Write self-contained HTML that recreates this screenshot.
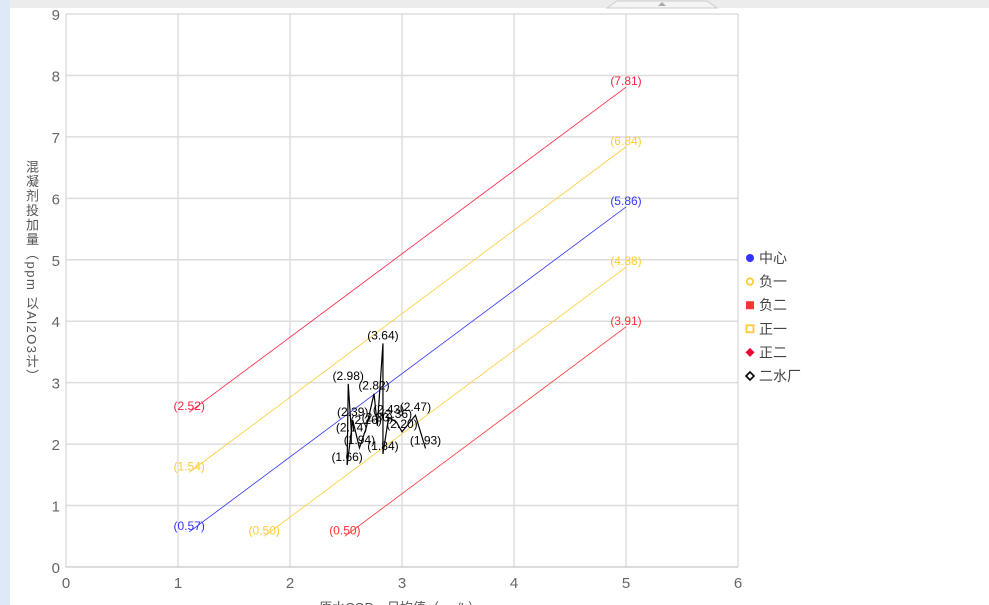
<!DOCTYPE html>
<html><head><meta charset="utf-8"><style>
body{margin:0;width:989px;height:605px;overflow:hidden;background:#fff;font-family:"Liberation Sans","Noto Sans CJK SC",sans-serif;position:relative}
#ytitle{position:absolute;left:22px;top:160px;writing-mode:vertical-rl;font-size:13px;color:#555;letter-spacing:1.5px;font-family:"Liberation Sans","Noto Sans CJK SC",sans-serif}
</style></head><body>
<div style="position:absolute;left:0;top:0;width:10px;height:605px;background:#dde9f6"></div>
<div style="position:absolute;left:10px;top:0;width:979px;height:8px;background:#ececec"></div>
<div id="ytitle">混凝剂投加量（ppm 以Al2O3计）</div>
<svg id="chart" width="989" height="605" style="position:absolute;left:0;top:0" font-family="Liberation Sans, Noto Sans CJK SC, sans-serif">
<polygon points="607,8 617,1 707,1 717,8" fill="#f4f4f4" stroke="#ccc" stroke-width="1"/>
<polygon points="658,6 662,2 666,6" fill="#aaa"/>
<g id="grid"></g><g id="series"></g><g id="legend"></g>
<text x="400" y="612" font-size="13" fill="#555" text-anchor="middle">原水COD…日均值（mg/L）</text>
</svg>
<script>
const xTicks=[0,1,2,3,4,5,6];
const yTicks=[0,1,2,3,4,5,6,7,8,9];
const lineNames=["负二上","负一上","中心","正一下","正二下"];
const lineColors=["#ff2040","#ffcc33","#3333ff","#ffcc33","#ff3333"];
const lineX0=[1.1,1.1,1.1,1.77,2.49];
const lineY0=[2.52,1.54,0.57,0.50,0.50];
const lineX1=[5,5,5,5,5];
const lineY1=[7.81,6.84,5.86,4.88,3.91];
const plantX=[2.55,2.52,2.51,2.56,2.62,2.68,2.75,2.78,2.83,2.83,2.88,2.95,3.00,3.12,3.21];
const plantY=[2.14,2.98,1.66,2.39,1.94,2.26,2.82,2.30,3.64,1.84,2.43,2.36,2.20,2.47,1.93];
const legendNames=["中心","负一","负二","正一","正二","二水厂"];
const X=v=>66+v*112, Y=v=>567-v*61.44;
const NS="http://www.w3.org/2000/svg";
function mk(t,p,a){const e=document.createElementNS(NS,t);for(const k in a)e.setAttribute(k,a[k]);p.appendChild(e);return e;}
const g=document.getElementById('grid'),s=document.getElementById('series'),lg=document.getElementById('legend');
xTicks.forEach(v=>{const l=mk('line',g,{x1:X(v),x2:X(v),y1:Y(9),y2:Y(0),stroke:'#ccc'});


const t=mk('text',g,{x:X(v),y:588,'font-size':15,fill:'#666','text-anchor':'middle'});t.textContent=v;

});
yTicks.forEach(v=>{const l=mk('line',g,{x1:X(0),x2:X(6),y1:Y(v),y2:Y(v),stroke:v==0?'#bbb':'#ddd','stroke-width':v==0?1:1.5});


const t=mk('text',g,{x:60,y:Y(v)+6,'font-size':15,fill:'#666','text-anchor':'end'});t.textContent=v;

});
mk('line',g,{x1:X(6),x2:X(6),y1:Y(9),y2:Y(0),stroke:'#ccc'});
lineNames.forEach((n,i)=>{const l=mk('line',s,{x1:X(lineX0[i]),y1:Y(lineY0[i]),x2:X(lineX1[i]),y2:Y(lineY1[i]),stroke:lineColors[i],'stroke-width':0.8});


[[lineX0[i],lineY0[i]],[lineX1[i],lineY1[i]]].forEach(p=>{const t=mk('text',s,{x:X(p[0]),y:Y(p[1])-2,'font-size':12,fill:lineColors[i],'text-anchor':'middle'});t.textContent='('+p[1].toFixed(2)+')';

});});
const pl=mk('polyline',s,{points:plantX.map((x,i)=>X(x)+','+Y(plantY[i])).join(' '),fill:'none',stroke:'#000','stroke-width':1.2});


plantX.forEach((x,i)=>{const t=mk('text',s,{x:X(x),y:Y(plantY[i])-4,'font-size':12,fill:'#000','text-anchor':'middle'});t.textContent='('+plantY[i].toFixed(2)+')';

});
legendNames.forEach((n,i)=>{const y=258+i*23.6;const c=i;let m;
if(i==0)m=mk('circle',lg,{cx:750,cy:y,r:4,fill:'#3333ff'});
else if(i==1)m=mk('circle',lg,{cx:750,cy:y,r:3.2,fill:'none',stroke:'#ffcc33','stroke-width':1.8});
else if(i==2)m=mk('rect',lg,{x:746,y:y-4,width:8,height:8,fill:'#ff3333'});
else if(i==3)m=mk('rect',lg,{x:746.5,y:y-3.5,width:7,height:7,fill:'none',stroke:'#ffcc33','stroke-width':1.8});
else if(i==4)m=mk('polygon',lg,{points:`750,${y-4.5} 754.5,${y} 750,${y+4.5} 745.5,${y}`,fill:'#ee0033'});
else m=mk('polygon',lg,{points:`750,${y-4} 754,${y} 750,${y+4} 746,${y}`,fill:'none',stroke:'#000','stroke-width':1.6});


const t=mk('text',lg,{x:759,y:y+5,'font-size':14,fill:'#444'});t.textContent=n;

});
</script>
</body></html>
